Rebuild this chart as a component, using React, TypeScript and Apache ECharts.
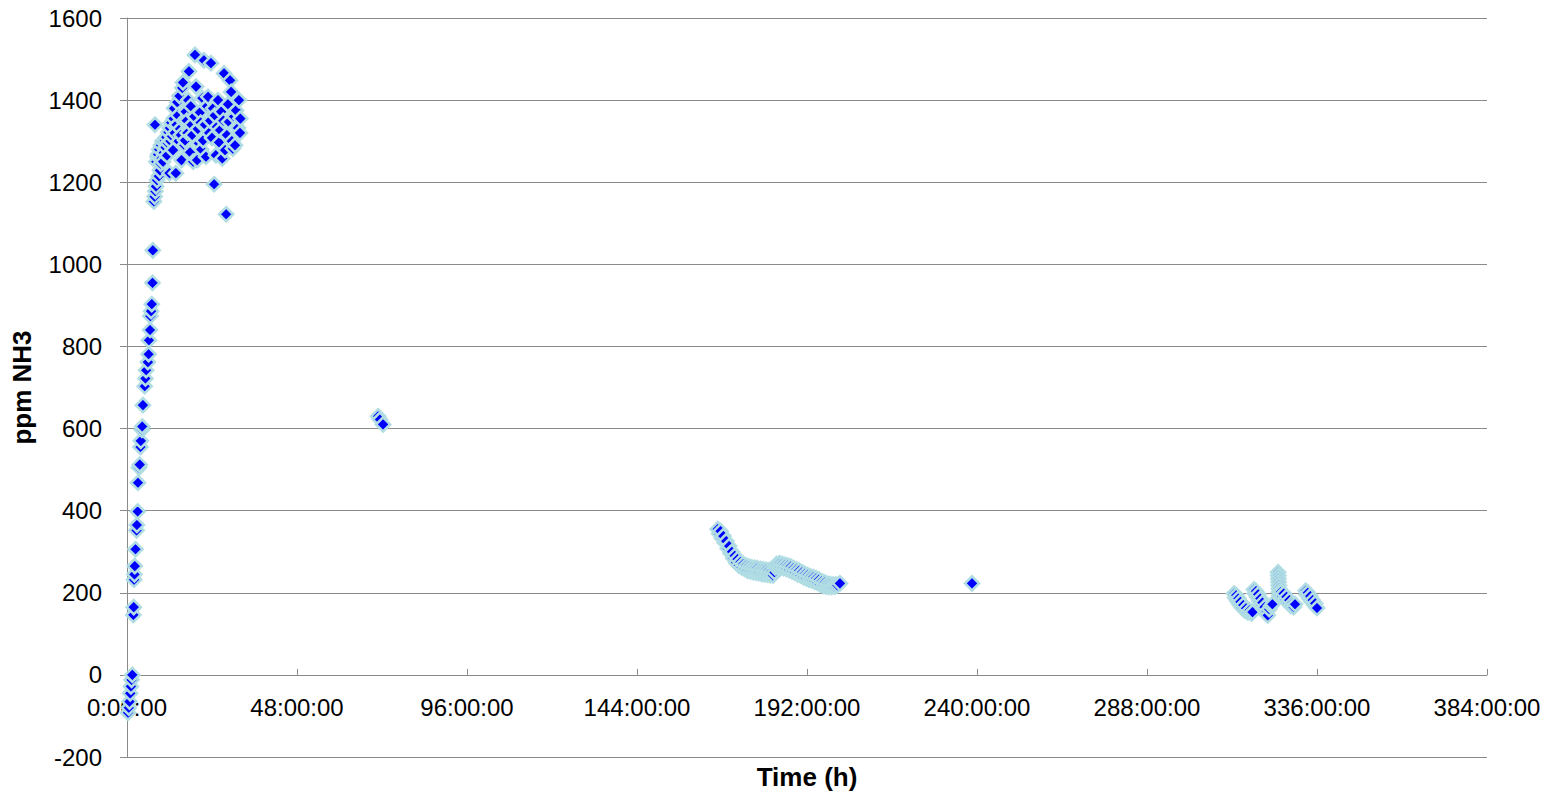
import React, { useEffect, useRef } from "react";
import * as echarts from "echarts";

// [hours, ppm NH3]
const rampUp: [number, number][] = [
  [0.3, -92], [0.5, -80], [0.7, -65], [0.9, -45], [1.1, -28], [1.3, -12], [1.5, 0],
  [1.8, 146], [1.9, 165], [2.0, 232], [2.1, 245], [2.2, 265], [2.4, 306], [2.7, 352],
  [2.8, 365], [3.0, 398], [3.1, 468], [3.4, 505], [3.6, 512], [3.8, 555], [3.9, 570],
  [4.2, 597], [4.3, 605], [4.5, 657], [5.0, 703], [5.2, 722], [5.4, 742], [5.9, 762],
  [6.1, 781], [6.2, 815], [6.5, 840], [6.6, 874], [6.8, 886], [7.0, 903], [7.2, 955],
  [7.3, 1034],
];

const peakCluster: [number, number][] = [
  [7.6, 1153], [7.8, 1165], [7.9, 1340], [8.0, 1178], [8.2, 1190], [8.3, 1250], [8.5, 1205],
  [8.6, 1262], [8.8, 1268], [9.0, 1215], [9.1, 1280], [9.3, 1229], [9.5, 1245], [9.6, 1290],
  [9.8, 1258], [10.0, 1300], [10.2, 1250], [10.4, 1272], [10.7, 1302], [10.9, 1285],
  [11.1, 1310], [11.3, 1265], [11.5, 1295], [11.7, 1322], [12.0, 1222], [12.1, 1332],
  [12.3, 1300], [12.5, 1345], [12.7, 1312], [13.0, 1278], [13.2, 1355], [13.3, 1380],
  [13.5, 1320], [13.8, 1222], [14.0, 1340], [14.2, 1395], [14.4, 1363], [14.6, 1300],
  [14.8, 1410], [15.0, 1330], [15.2, 1315], [15.4, 1254], [15.6, 1430], [15.8, 1443],
  [16.0, 1350], [16.2, 1290], [16.4, 1302], [16.6, 1372], [16.9, 1350], [17.1, 1320],
  [17.3, 1400], [17.5, 1470], [17.8, 1273], [18.0, 1385], [18.2, 1340], [18.4, 1315],
  [18.7, 1250], [19.0, 1360], [19.2, 1510], [19.5, 1433], [19.8, 1254], [20.0, 1330],
  [20.3, 1295], [20.6, 1370], [20.8, 1345], [21.0, 1280], [21.3, 1405], [21.5, 1302],
  [21.7, 1497], [22.0, 1340], [22.3, 1262], [22.6, 1385], [22.9, 1408], [23.2, 1320],
  [23.5, 1350], [23.7, 1490], [24.0, 1308], [24.3, 1380], [24.6, 1195], [24.8, 1363],
  [25.1, 1266], [25.4, 1335], [25.7, 1400], [26.0, 1297], [26.3, 1327], [26.6, 1372],
  [26.9, 1258], [27.2, 1350], [27.4, 1465], [27.7, 1278], [28.0, 1122], [28.2, 1315],
  [28.5, 1390], [28.8, 1347], [29.1, 1448], [29.4, 1420], [29.6, 1300], [29.9, 1282],
  [30.2, 1360], [30.5, 1290], [30.8, 1375], [31.0, 1335], [31.3, 1332], [31.6, 1400],
  [31.9, 1320], [32.0, 1355],
];

const midPoints: [number, number][] = [
  [70.9, 630], [71.4, 622], [72.3, 610],
];

const declineBand: [number, number][] = [
  [166.8, 355], [167.2, 344], [167.6, 350], [168.0, 333], [168.4, 338], [168.8, 322],
  [169.2, 326], [169.6, 308], [170.0, 314], [170.4, 296], [170.8, 300], [171.2, 284],
  [171.6, 290], [172.0, 274], [172.4, 282], [172.8, 266], [173.2, 275], [173.6, 262],
  [174.0, 270], [174.4, 258], [174.8, 266], [175.2, 254], [175.6, 264], [176.0, 252],
  [176.4, 262], [176.8, 250], [177.2, 261], [177.6, 249], [178.0, 260], [178.4, 248],
  [178.8, 258], [179.2, 246], [179.6, 257], [180.0, 245], [180.4, 256], [180.8, 244],
  [181.2, 254], [181.6, 243], [182.0, 252], [182.4, 242], [182.8, 250],
  [183.0, 262], [183.4, 270], [183.8, 262], [184.2, 272], [184.6, 262], [185.0, 270],
  [185.4, 260], [185.8, 268], [186.2, 258], [186.6, 266], [187.0, 255], [187.4, 264],
  [187.8, 252], [188.2, 260], [188.6, 249], [189.0, 257], [189.4, 245], [189.8, 254],
  [190.2, 242], [190.6, 250], [191.0, 238], [191.4, 246], [191.8, 235], [192.2, 243],
  [192.6, 232], [193.0, 240], [193.4, 230], [193.8, 238], [194.2, 227], [194.6, 235],
  [195.0, 224], [195.4, 232], [195.8, 220], [196.2, 228], [196.6, 217], [197.0, 225],
  [197.4, 215], [197.8, 222], [198.2, 214], [198.6, 221], [199.0, 214], [199.4, 220],
  [199.8, 215], [200.2, 220], [200.6, 218], [201.3, 223],
];

const lonePoint: [number, number][] = [[238.6, 223]];

const lateCluster: [number, number][] = [
  [312.6, 198], [312.9, 188], [313.2, 194], [313.5, 180], [313.8, 186], [314.1, 172],
  [314.4, 178], [314.8, 164], [315.2, 170], [315.6, 157], [316.0, 162], [316.5, 152],
  [317.0, 157], [317.5, 150], [317.8, 153],
  [318.2, 208], [318.5, 198], [318.8, 204], [319.1, 190], [319.4, 196], [319.7, 180],
  [320.0, 186], [320.3, 170], [320.6, 176], [320.9, 160], [321.2, 165], [321.5, 150],
  [321.8, 155], [322.1, 145],
  [322.5, 160], [323.0, 168], [323.4, 172],
  [325.0, 250], [325.05, 242], [325.1, 234], [325.15, 226], [325.2, 218], [325.25, 210],
  [325.3, 202], [325.4, 194],
  [325.8, 202], [326.2, 192], [326.6, 198], [327.0, 184], [327.4, 190], [327.8, 176],
  [328.2, 182], [328.6, 168], [329.0, 174], [329.4, 165], [329.8, 172],
  [332.8, 205], [333.1, 195], [333.4, 200], [333.8, 186], [334.1, 192], [334.5, 178],
  [334.8, 182], [335.2, 170], [335.5, 174], [336.0, 163],
];

const xTicks = { min: 0, max: 384, interval: 48 };
const yTicks = { min: -200, max: 1600, interval: 200 };

const FONT = "'Liberation Sans', Arial, sans-serif";
const GRID_GRAY = "#8a8a8a";

export default function App() {
  const ref = useRef<HTMLDivElement>(null);
  useEffect(() => {
    document.body.style.margin = "0";
    if (!ref.current) return;
    const chart = echarts.init(ref.current, null, { renderer: "svg" });
    const allPoints = [
      ...rampUp,
      ...peakCluster,
      ...midPoints,
      ...declineBand,
      ...lonePoint,
      ...lateCluster,
    ];
    chart.setOption({
      animation: false,
      textStyle: { fontFamily: FONT },
      grid: {
        left: 127,
        right: 68,
        top: 18,
        bottom: 36,
        containLabel: false,
        outerBoundsMode: "none",
      },
      xAxis: {
        type: "value",
        min: xTicks.min,
        max: xTicks.max,
        interval: xTicks.interval,
        axisLine: { show: true, onZero: true, lineStyle: { color: GRID_GRAY, width: 1 } },
        axisTick: { show: true, inside: true, length: 6, lineStyle: { color: GRID_GRAY } },
        axisLabel: {
          formatter: (v: number) => `${v}:00:00`,
          fontSize: 24,
          color: "#000",
          margin: -62,
          fontFamily: FONT,
        },
        splitLine: { show: false },
        name: "Time (h)",
        nameLocation: "middle",
        nameGap: 7,
        nameMoveOverlap: false,
        nameTextStyle: { fontWeight: "bold", fontSize: 26, color: "#000", fontFamily: FONT },
      },
      yAxis: {
        type: "value",
        min: yTicks.min,
        max: yTicks.max,
        interval: yTicks.interval,
        axisLine: { show: true, onZero: false, lineStyle: { color: GRID_GRAY, width: 1 } },
        axisTick: { show: true, length: 7, lineStyle: { color: GRID_GRAY } },
        axisLabel: {
          formatter: (v: number) => String(v),
          fontSize: 24,
          color: "#000",
          margin: 25,
          fontFamily: FONT,
        },
        splitLine: { show: true, lineStyle: { color: GRID_GRAY, width: 1 } },
        name: "ppm NH3",
        nameLocation: "middle",
        nameGap: 92,
        nameTextStyle: { fontWeight: "bold", fontSize: 26, color: "#000", fontFamily: FONT },
      },
      series: [
        {
          type: "scatter",
          symbol: "diamond",
          symbolSize: 14,
          itemStyle: { color: "#0000ff", borderColor: "#b0dde3", borderWidth: 2.6, opacity: 1 },
          data: allPoints,
        },
      ],
    });
    return () => chart.dispose();
  }, []);
  return <div ref={ref} style={{ width: 1555, height: 793 }} />;
}
